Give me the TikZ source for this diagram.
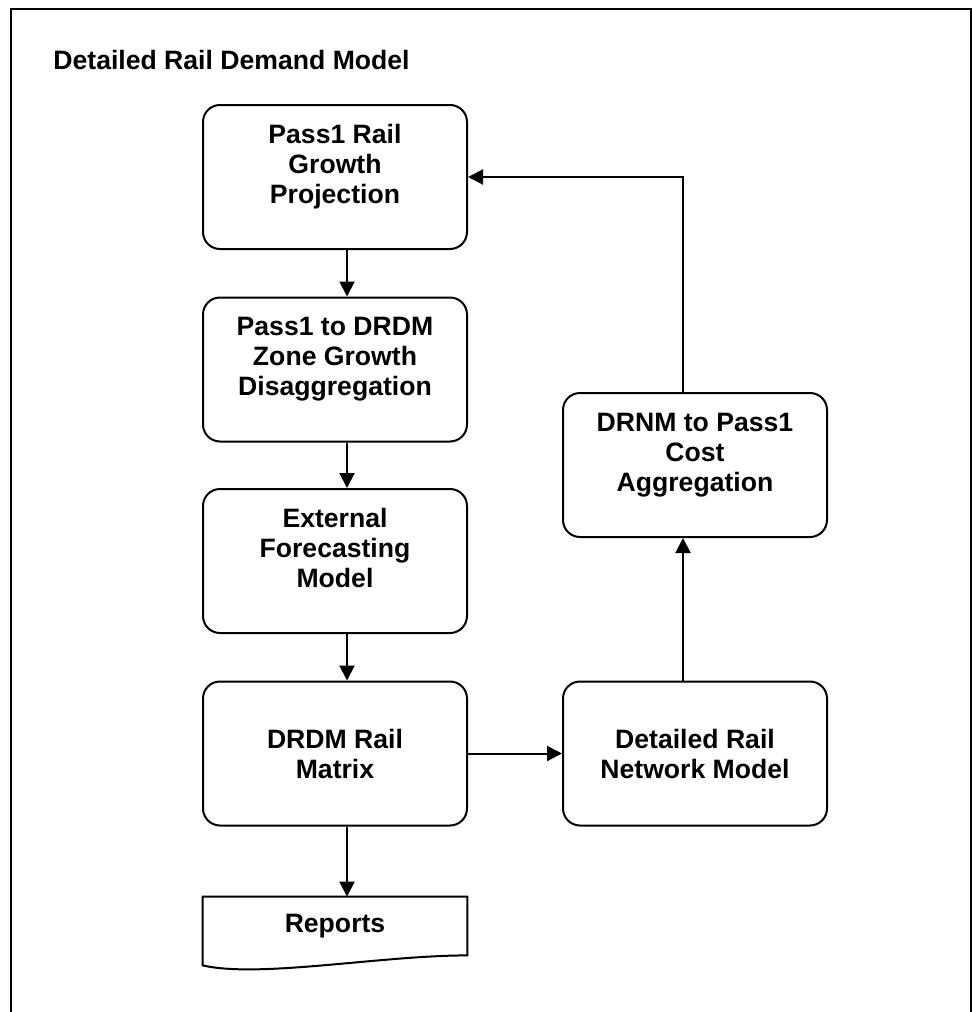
\documentclass[tikz,border=0pt]{standalone}
\usepackage{fontspec}
\setmainfont{Liberation Sans}
\usetikzlibrary{arrows.meta}
\tikzset{
  stage/.style={draw, rounded corners=8.5pt, align=center, font=\bfseries\fontsize{13.3}{15}\selectfont,
                inner sep=0pt, minimum width=132pt, minimum height=72pt, line width=1pt},
  report/.style={align=center, font=\bfseries\fontsize{13.3}{15}\selectfont,
                inner sep=0pt, minimum width=132pt, minimum height=29pt},
  flow/.style={-{Triangle[length=7.5pt, width=7.5pt]}, line width=1pt},
}

\begin{document}
\begin{tikzpicture}[x=0.5pt, y=-0.5pt]
    \useasboundingbox (0,0) rectangle (972,1012);
    \clip (0,0) rectangle (972,1012);
    \draw[line width=1pt] (11,9) rectangle (971,1040);
    \node[anchor=base west, inner sep=0pt, font=\bfseries\fontsize{13.3}{15}\selectfont] (title) at (53,69) {Detailed Rail Demand Model};
    \node[stage] (grow)    at (335,177)   {Pass1 Rail\\Growth\\Projection\\[-2pt]\mbox{}};
    \node[stage] (disagg)  at (335,369.5) {Pass1 to DRDM\\Zone Growth\\Disaggregation\\[-2pt]\mbox{}};
    \node[stage] (ext)     at (335,561)   {External\\Forecasting\\Model\\[-2pt]\mbox{}};
    \node[stage] (matrix)  at (335,753.5) {DRDM Rail\\Matrix};
    \node[stage] (net)     at (695,753.5) {Detailed Rail\\Network Model};
    \node[stage] (costagg) at (695,465)   {DRNM to Pass1\\Cost\\Aggregation\\[-2pt]\mbox{}};
    \node[report] (rep)    at (335,926)   {Reports};
    \draw[line width=1pt] (rep.north west) -- (rep.north east) -- (rep.south east)
        .. controls +(-87,0) and +(57,13) .. ([yshift=-5pt]rep.south west) -- cycle;
    \draw[flow] ([xshift=6pt]grow.south)   -- ([xshift=6pt]disagg.north);
    \draw[flow] ([xshift=6pt]disagg.south) -- ([xshift=6pt]ext.north);
    \draw[flow] ([xshift=6pt]ext.south)    -- ([xshift=6pt]matrix.north);
    \draw[flow] ([xshift=6pt]matrix.south) -- ([xshift=6pt]rep.north);
    \draw[flow] (matrix.east) -- (net.west);
    \draw[flow] ([xshift=-6pt]net.north) -- ([xshift=-6pt]costagg.south);
    \draw[flow] ([xshift=-6pt]costagg.north) |- (grow.east);
\end{tikzpicture}
\end{document}
